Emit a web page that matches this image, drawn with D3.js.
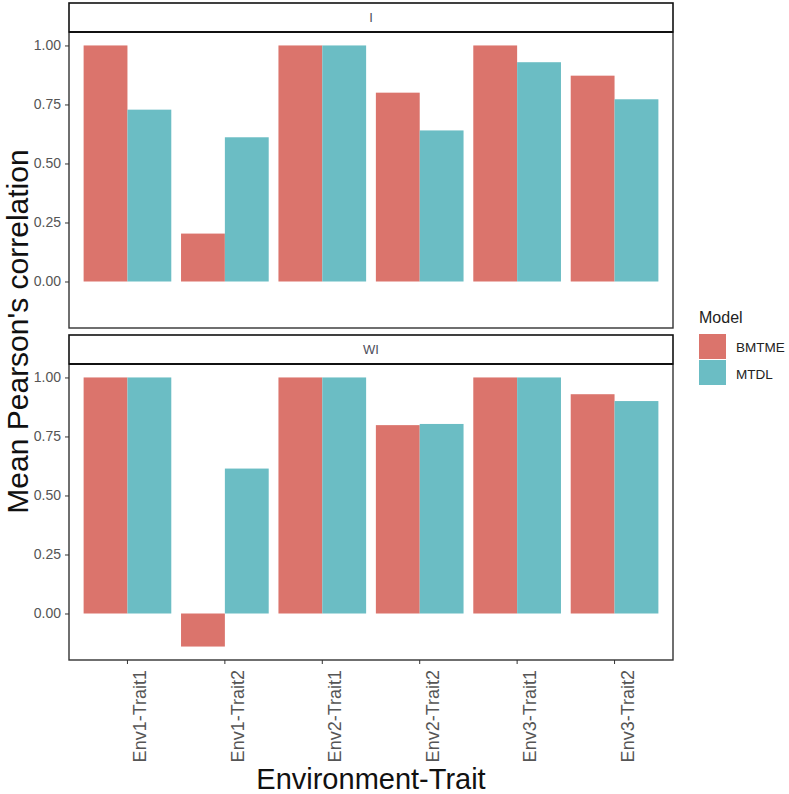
<!DOCTYPE html>
<html><head><meta charset="utf-8">
<script src="https://cdn.jsdelivr.net/npm/d3@7"></script>
<style>
html,body{margin:0;padding:0;background:#fff;}
svg{display:block;font-family:"Liberation Sans",Arial,sans-serif;}
</style></head>
<body><svg id="chart" width="789" height="794"></svg>
<script>
const categories = ["Env1-Trait1","Env1-Trait2","Env2-Trait1","Env2-Trait2","Env3-Trait1","Env3-Trait2"];
const models = ["BMTME","MTDL"];
const panels = ["I","WI"];
const valuesI_BMTME = [1.00, 0.203, 1.00, 0.80, 1.00, 0.872];
const valuesI_MTDL  = [0.728, 0.611, 1.00, 0.64, 0.929, 0.772];
const valuesWI_BMTME = [1.00, -0.14, 1.00, 0.798, 1.00, 0.929];
const valuesWI_MTDL  = [1.00, 0.614, 1.00, 0.803, 1.00, 0.90];
const yTicks = [0, 0.25, 0.5, 0.75, 1.0];
const colors = ["#DB746C", "#6BBDC4"];

const panelData = {
  "I": [valuesI_BMTME, valuesI_MTDL],
  "WI": [valuesWI_BMTME, valuesWI_MTDL]
};

const svg = d3.select("#chart");
const left = 69, right = 673;
const panelLayout = [
  {name:"I", stripTop:3, top:32, bottom:328},
  {name:"WI", stripTop:335, top:364, bottom:660}
];

const x = d3.scaleBand().domain(categories).range([left, right]).paddingInner(0).paddingOuter(0.1);
const bw = x.bandwidth();
const xs = d3.scaleBand().domain(models).range([0.05*bw, 0.95*bw]).padding(0);
const color = d3.scaleOrdinal().domain(models).range(colors);

const allVals = [].concat(valuesI_BMTME, valuesI_MTDL, valuesWI_BMTME, valuesWI_MTDL, [0]);
const vmin = d3.min(allVals), vmax = d3.max(allVals);
const ex = (vmax - vmin) * 0.05;

panelLayout.forEach(p => {
  const y = d3.scaleLinear().domain([vmin - ex, vmax + ex]).range([p.bottom, p.top]);
  const g = svg.append("g");
  // strip
  g.append("rect").attr("x", left).attr("y", p.stripTop).attr("width", right-left).attr("height", p.top - p.stripTop)
    .attr("fill", "#fff").attr("stroke", "#111").attr("stroke-width", 1.6);
  g.append("text").attr("x", (left+right)/2).attr("y", (p.stripTop + p.top)/2 + 4.5)
    .attr("text-anchor", "middle").attr("font-size", 13).attr("fill", "#4d4d5a").text(p.name);

  // bars
  const series = panelData[p.name];
  models.forEach((m, mi) => {
    g.selectAll(null).data(categories).enter().append("rect")
      .attr("x", d => x(d) + xs(m))
      .attr("width", xs.bandwidth())
      .attr("y", (d,i) => y(Math.max(0, series[mi][i])))
      .attr("height", (d,i) => Math.abs(y(series[mi][i]) - y(0)))
      .attr("fill", color(m));
  });

  // panel border
  g.append("rect").attr("x", left).attr("y", p.top).attr("width", right-left).attr("height", p.bottom - p.top)
    .attr("fill", "none").attr("stroke", "#333").attr("stroke-width", 1.4);
  g.append("line").attr("x1", left).attr("x2", right).attr("y1", p.top).attr("y2", p.top)
    .attr("stroke", "#111").attr("stroke-width", 2);

  // y axis
  const ya = g.append("g").attr("transform", `translate(${left},0)`)
    .call(d3.axisLeft(y).tickValues(yTicks).tickFormat(d3.format(".2f")).tickSize(4).tickPadding(4));
  ya.select(".domain").remove();
  ya.selectAll(".tick line").attr("stroke", "#333");
  ya.selectAll(".tick text").attr("font-size", 14).attr("fill", "#555").attr("font-family", "Liberation Sans, Arial, sans-serif");

  if (p.name === "WI") {
    const xa = g.append("g").attr("transform", `translate(0,${p.bottom})`)
      .call(d3.axisBottom(x).tickSize(4).tickPadding(0));
    xa.select(".domain").remove();
    xa.selectAll(".tick line").attr("stroke", "#333");
    xa.selectAll(".tick text")
      .attr("font-size", 18).attr("fill", "#555").attr("font-family", "Liberation Sans, Arial, sans-serif")
      .attr("text-anchor", "end").attr("dy", null)
      .attr("transform", "translate(19,10) rotate(-90)")
      .attr("x", 0).attr("y", 0);
  }
});

// axis titles
svg.append("text").attr("x", (left+right)/2).attr("y", 789).attr("text-anchor", "middle")
  .attr("font-size", 29).attr("fill", "#111").text("Environment-Trait");
svg.append("text").attr("transform", `translate(28,${(3+660)/2}) rotate(-90)`).attr("text-anchor", "middle")
  .attr("font-size", 30).attr("fill", "#111").text("Mean Pearson's correlation");

// legend
const lg = svg.append("g");
lg.append("text").attr("x", 699).attr("y", 323).attr("font-size", 16).attr("fill", "#222").text("Model");
models.forEach((m, i) => {
  lg.append("rect").attr("x", 699).attr("y", 334 + i*26).attr("width", 27).attr("height", 25).attr("fill", color(m));
  lg.append("text").attr("x", 736).attr("y", 352 + i*27).attr("font-size", 13.5).attr("fill", "#222").text(m);
});
</script></body></html>
